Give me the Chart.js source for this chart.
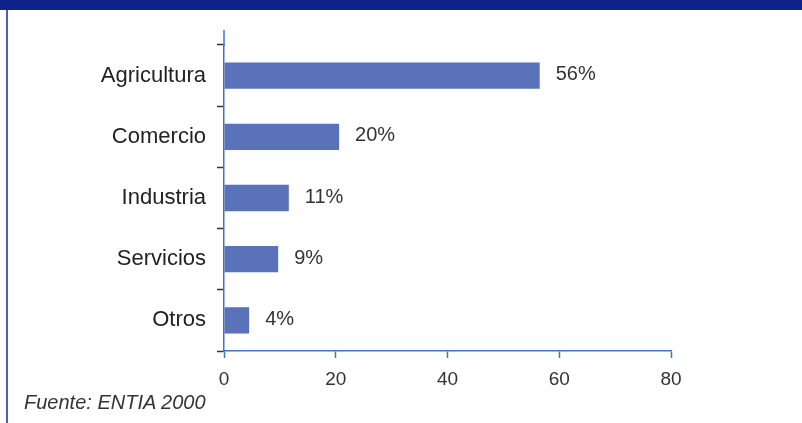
<!DOCTYPE html>
<html>
<head>
<meta charset="utf-8">
<script src="https://cdn.jsdelivr.net/npm/chart.js@4/dist/chart.umd.min.js"></script>
<style>
  html, body { margin: 0; padding: 0; background: #ffffff; }
  #wrap { position: relative; width: 802px; height: 423px; overflow: hidden; }
  #c { position: absolute; left: 0; top: 0; }
  #source { position: absolute; left: 24px; top: 391px; font: italic 20px "Liberation Sans", Arial, sans-serif; color: #333333; white-space: nowrap; }
</style>
</head>
<body>
<div id="wrap">
  <canvas id="c" width="802" height="423"></canvas>
  <div id="source">Fuente: ENTIA 2000</div>
</div>
<script>
const categories = ["Agricultura", "Comercio", "Industria", "Servicios", "Otros"];
const shares = [56.5, 20.6, 11.6, 9.7, 4.5];
const shareLabels = ["56%", "20%", "11%", "9%", "4%"];
const xTicks = [0, 20, 40, 60, 80];

const FONT = '"Liberation Sans", Arial, Helvetica, sans-serif';

const frame = {
  id: 'frame',
  beforeDraw(chart) {
    const ctx = chart.ctx;
    ctx.save();
    ctx.fillStyle = '#ffffff';
    ctx.fillRect(0, 0, chart.width, chart.height);
    ctx.fillStyle = '#10238a';
    ctx.fillRect(0, 0, chart.width, 10);
    ctx.strokeStyle = '#4f5fb5';
    ctx.lineWidth = 2;
    ctx.beginPath();
    ctx.moveTo(7, 10);
    ctx.lineTo(7, chart.height);
    ctx.stroke();
    ctx.restore();
  },
  afterDraw(chart) {
    const ctx = chart.ctx;
    const area = chart.chartArea;
    ctx.save();
    // extension of the category axis line above the first tick
    ctx.strokeStyle = '#3a76c8';
    ctx.lineWidth = 1.5;
    ctx.beginPath();
    ctx.moveTo(area.left, area.top - 15);
    ctx.lineTo(area.left, area.top + 1);
    ctx.stroke();
    // value labels
    const meta = chart.getDatasetMeta(0);
    ctx.fillStyle = '#333333';
    ctx.font = '20px ' + FONT;
    ctx.textAlign = 'left';
    ctx.textBaseline = 'middle';
    meta.data.forEach((bar, i) => {
      ctx.fillText(shareLabels[i], bar.x + 16, bar.y - 1);
    });
    ctx.restore();
  }
};

new Chart(document.getElementById('c'), {
  type: 'bar',
  data: {
    labels: categories,
    datasets: [{
      data: shares,
      backgroundColor: '#5a72b9',
      borderWidth: 0,
      barPercentage: 0.43,
      categoryPercentage: 1.0
    }]
  },
  options: {
    indexAxis: 'y',
    responsive: false,
    animation: false,
    devicePixelRatio: 1,
    layout: { padding: { left: 0, right: 131, top: 45, bottom: 0 } },
    plugins: { legend: { display: false }, tooltip: { enabled: false } },
    scales: {
      x: {
        min: 0,
        max: 80,
        afterBuildTicks(scale) { scale.ticks = xTicks.map(v => ({ value: v })); },
        afterFit(scale) { scale.height = 72; },
        grid: { drawOnChartArea: false, drawTicks: true, tickLength: 7, tickColor: '#3a76c8', tickWidth: 1.5 },
        border: { display: true, color: '#3a76c8', width: 1.5 },
        ticks: { color: '#333333', font: { family: FONT, size: 19 }, padding: 10, maxRotation: 0 }
      },
      y: {
        afterFit(scale) { scale.width = 224; },
        grid: { drawOnChartArea: false, drawTicks: true, tickLength: 7, tickColor: '#333333', tickWidth: 1.5, offset: true },
        border: { display: true, color: '#3a76c8', width: 1.5 },
        ticks: { color: '#222222', font: { family: FONT, size: 22 }, padding: 11 }
      }
    }
  },
  plugins: [frame]
});
</script>
</body>
</html>
